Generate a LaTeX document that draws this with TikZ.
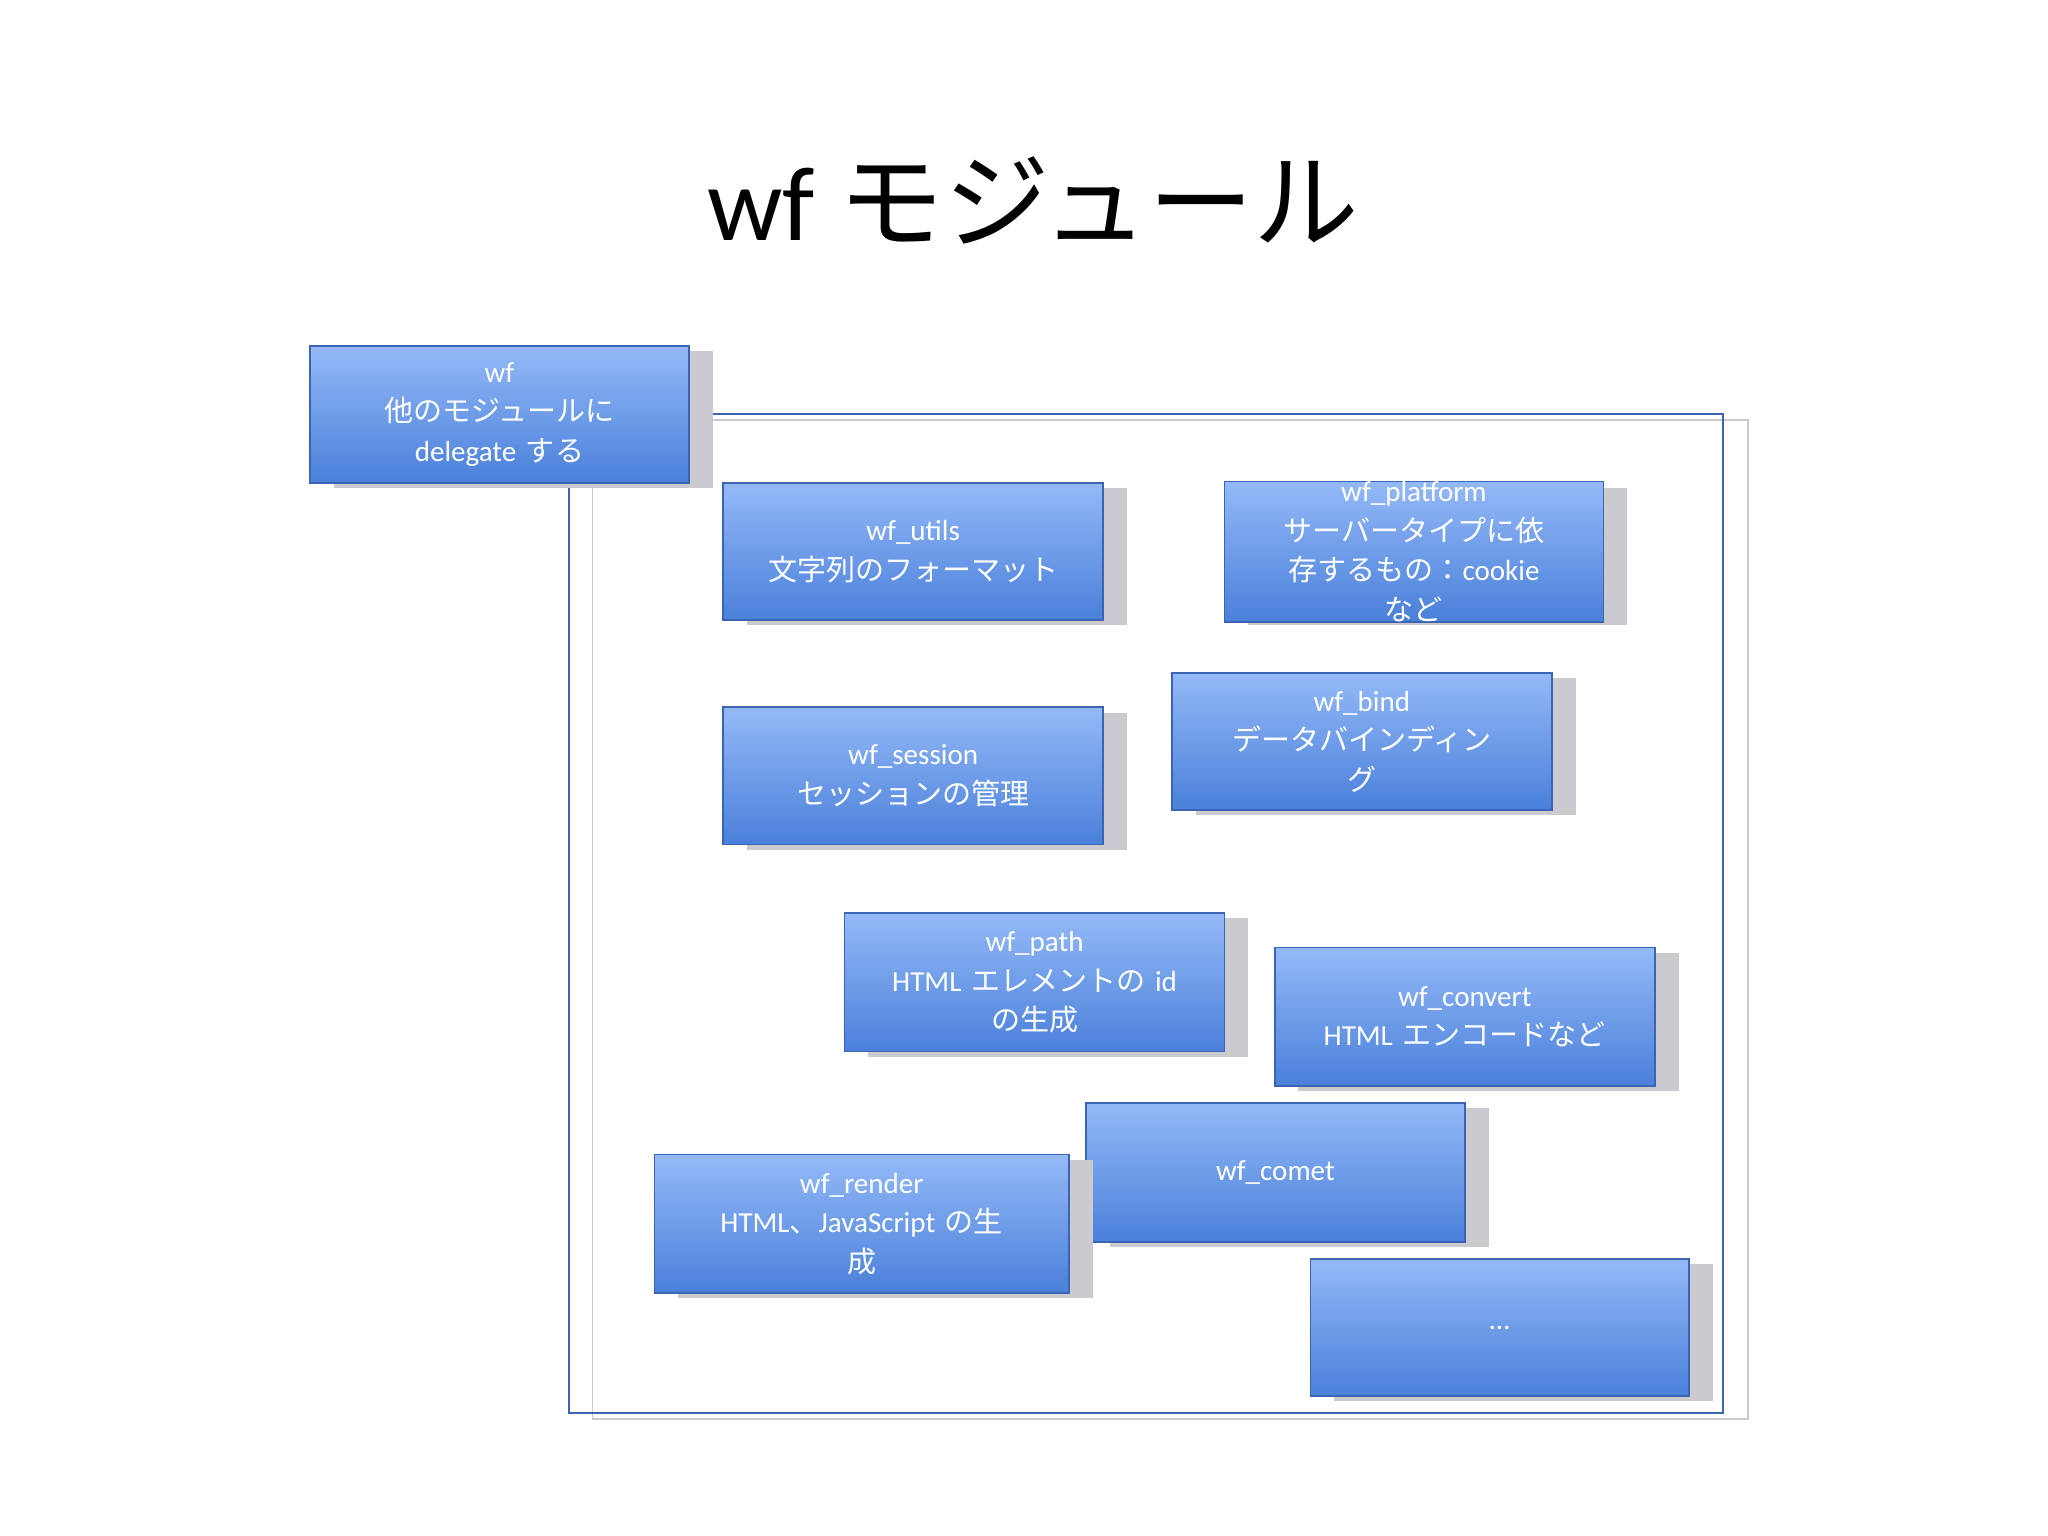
\documentclass[tikz,border=0pt]{standalone}
\usepackage{fontspec}
\setmainfont{Carlito}
\newfontfamily\cjk{Noto Sans CJK JP}
\newcommand{\J}[1]{{\cjk #1}}
\definecolor{topb}{HTML}{94B9F7}
\definecolor{botb}{HTML}{4A80DA}
\definecolor{edgeb}{HTML}{3C64B4}
\definecolor{shd}{HTML}{CBCBCF}
\tikzset{
  mod/.style={draw=edgeb, line width=1.2pt, top color=topb, bottom color=botb, text=white,
    align=center, inner sep=0pt, font=\fontsize{22}{30}\selectfont},
  shadowbox/.style={fill=shd, draw=none}
}
\newcommand{\modbox}[6]{%
  \fill[shd] (#2+18,#3-4) rectangle (#4+18,#5-4);
  \node[mod, minimum width={(#4-#2)*1pt}, minimum height={(#3-#5)*1pt}, text width={(#4-#2-20)*1pt}] (#1) at ({(#2+#4)/2},{(#3+#5)/2}) {#6};
}
\begin{document}
\begin{tikzpicture}[x=1pt,y=1pt]
\useasboundingbox (0,0) rectangle (1552,1164);
% big frame
\draw[shd, line width=1.5pt] (449,846) rectangle (1325,89);
\draw[edgeb, line width=1.5pt] (431,850) rectangle (1306,93);
\coordinate (frame) at (868,470);
\node[font=\fontsize{80}{90}\selectfont] (title) at (783,1012) {wf \J{モジュール}};
\modbox{wf}{235}{902}{522}{798}{wf\\\J{他のモジュールに}\\delegate \J{する}}
\modbox{utils}{548}{798}{836}{694}{wf\_utils\\\J{文字列のフォーマット}}
\modbox{platform}{928}{798}{1215}{694}{wf\_platform\\\J{サーバータイプに依}\\\J{存するもの：}cookie\\\J{など}}
\modbox{bind}{888}{654}{1176}{550}{wf\_bind\\\J{データバインディン}\\\J{グ}}
\modbox{session}{548}{628}{836}{524}{wf\_session\\\J{セッションの管理}}
\modbox{path}{640}{472}{928}{367}{wf\_path\\HTML \J{エレメントの} id\\\J{の生成}}
\modbox{convert}{966}{446}{1254}{341}{wf\_convert\\HTML \J{エンコードなど}}
\modbox{comet}{823}{328}{1110}{223}{wf\_comet\\[30pt]}
\modbox{render}{496}{289}{810}{184}{wf\_render\\HTML\J{、}JavaScript \J{の生}\\\J{成}}
\modbox{more}{993}{210}{1280}{106}{…}
\end{tikzpicture}
\end{document}
